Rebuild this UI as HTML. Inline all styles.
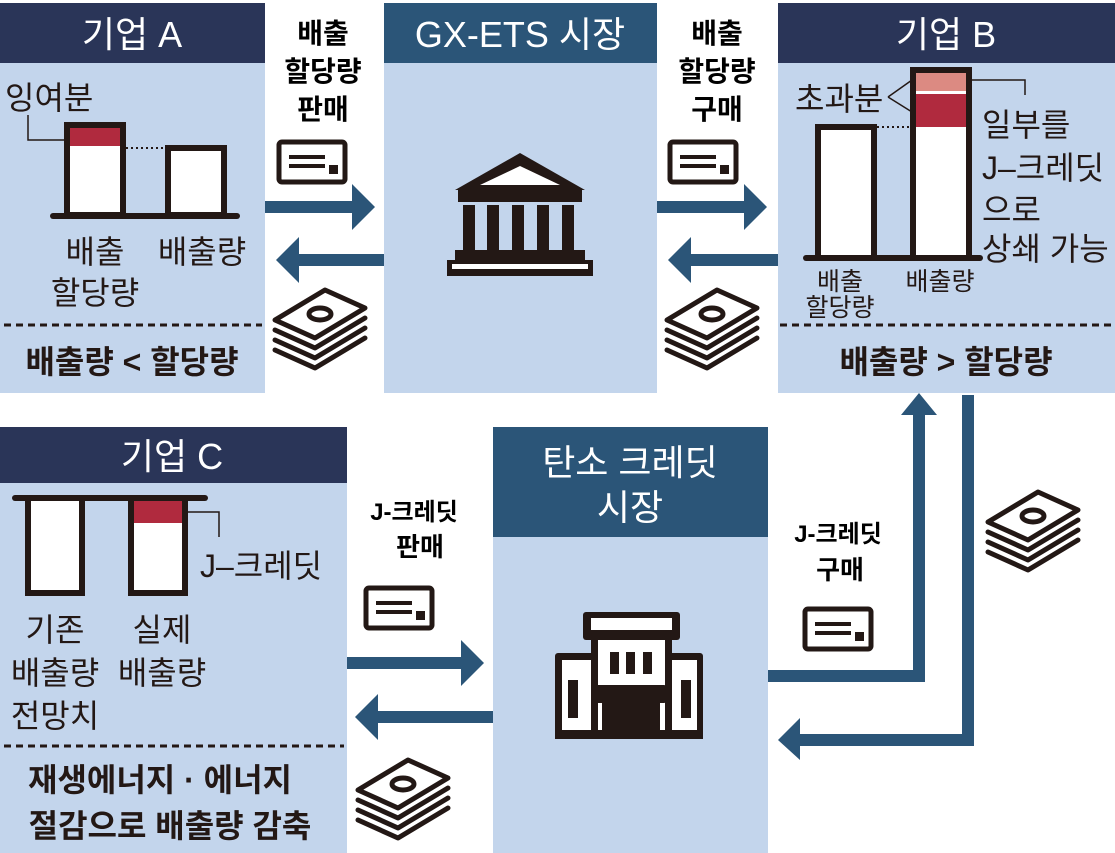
<!DOCTYPE html>
<html><head><meta charset="utf-8"><style>
html,body{margin:0;padding:0;background:#fff;}
svg{display:block;}
text{font-family:"Liberation Sans","Noto Sans CJK KR",sans-serif;}
</style></head><body>
<svg width="1115" height="853" viewBox="0 0 1115 853" xmlns="http://www.w3.org/2000/svg">
<defs>
<g id="money" fill="none" stroke="#231815" stroke-width="5" stroke-linejoin="round" stroke-linecap="round">
  <path d="M0 30 L50 0 L90 18 L40 48 Z" fill="#fff"/>
  <ellipse cx="45" cy="24" rx="11" ry="6"/>
  <path d="M0 40 L40 58 L90 28"/>
  <path d="M0 50 L40 68 L90 38"/>
  <path d="M0 60 L40 78 L90 48"/>
</g>
<g id="ticket">
  <rect x="2" y="2" width="66" height="40" rx="3" fill="#fff" stroke="#231815" stroke-width="5"/>
  <rect x="12" y="15" width="36" height="4" fill="#231815"/>
  <rect x="12" y="24" width="36" height="4" fill="#231815"/>
  <rect x="52" y="25" width="9" height="9" fill="#231815"/>
</g>
</defs>

<!-- Panel A -->
<rect x="0" y="3" width="265" height="390" fill="#c3d5ec"/>
<rect x="0" y="3" width="265" height="60" fill="#2a3558"/>
<text x="132" y="47" font-size="36" fill="#fff" text-anchor="middle">기업 A</text>
<text x="5" y="109" font-size="32" fill="#231815">잉여분</text>
<path d="M28 115 V140 H67" stroke="#231815" stroke-width="1.5" fill="none"/>
<rect x="67" y="125" width="56" height="90" fill="#fff" stroke="#231815" stroke-width="6"/>
<rect x="70" y="128" width="50" height="18" fill="#b02a3e"/>
<rect x="168" y="148" width="56" height="67" fill="#fff" stroke="#231815" stroke-width="6"/>
<path d="M126 148 H165" stroke="#231815" stroke-width="2" stroke-dasharray="2,3"/>
<rect x="50" y="213" width="190" height="6" rx="3" fill="#231815"/>
<text x="95" y="263" font-size="32" fill="#231815" text-anchor="middle">배출</text>
<text x="95" y="304" font-size="32" fill="#231815" text-anchor="middle">할당량</text>
<text x="202" y="263" font-size="32" fill="#231815" text-anchor="middle">배출량</text>
<path d="M4 325 H262" stroke="#231815" stroke-width="3" stroke-dasharray="7,5"/>
<text x="132" y="373" font-size="32" font-weight="bold" fill="#231815" text-anchor="middle">배출량 &lt; 할당량</text>

<!-- GX-ETS -->
<rect x="384" y="3" width="273" height="390" fill="#c3d5ec"/>
<rect x="384" y="3" width="273" height="60" fill="#2b5578"/>
<text x="520" y="47" font-size="36" fill="#fff" text-anchor="middle">GX-ETS 시장</text>
<g fill="#231815">
  <path d="M520 153 L585 190 L455 190 Z"/>
  <path d="M520 166 L560 185 L480 185 Z" fill="#fff"/>
  <rect x="458" y="190" width="124" height="12"/>
  <rect x="463" y="205" width="12" height="45"/><rect x="487" y="205" width="12" height="45"/>
  <rect x="512" y="205" width="12" height="45"/><rect x="537" y="205" width="12" height="45"/>
  <rect x="562" y="205" width="12" height="45"/>
  <rect x="455" y="250" width="130" height="10"/>
  <rect x="447" y="260" width="146" height="16"/>
  <rect x="452" y="264" width="136" height="5" fill="#fff"/>
</g>

<!-- Panel B -->
<rect x="778" y="3" width="337" height="390" fill="#c3d5ec"/>
<rect x="778" y="3" width="337" height="60" fill="#2a3558"/>
<text x="946" y="47" font-size="36" fill="#fff" text-anchor="middle">기업 B</text>
<text x="795" y="110" font-size="32" fill="#231815">초과분</text>
<path d="M888 97 L912 80 M888 97 L912 112" stroke="#231815" stroke-width="1.5" fill="none"/>
<rect x="818" y="127" width="56" height="131" fill="#fff" stroke="#231815" stroke-width="6"/>
<rect x="913" y="70" width="56" height="188" fill="#fff" stroke="#231815" stroke-width="6"/>
<rect x="916" y="73" width="50" height="18" fill="#dc8a82"/>
<rect x="916" y="94" width="50" height="33" fill="#b02a3e"/>
<path d="M877 127 H910" stroke="#231815" stroke-width="2" stroke-dasharray="2,3"/>
<path d="M972 80 H1025 V95" stroke="#231815" stroke-width="1.5" fill="none"/>
<rect x="803" y="255" width="180" height="6" rx="3" fill="#231815"/>
<g font-size="32" fill="#231815">
<text x="982" y="136">일부를</text>
<text x="982" y="179">J–크레딧</text>
<text x="982" y="221">으로</text>
<text x="982" y="260">상쇄 가능</text>
</g>
<text x="840" y="290" font-size="25" fill="#231815" text-anchor="middle">배출</text>
<text x="840" y="316" font-size="25" fill="#231815" text-anchor="middle">할당량</text>
<text x="940" y="290" font-size="25" fill="#231815" text-anchor="middle">배출량</text>
<path d="M780 325 H1112" stroke="#231815" stroke-width="3" stroke-dasharray="7,5"/>
<text x="946" y="373" font-size="32" font-weight="bold" fill="#231815" text-anchor="middle">배출량 &gt; 할당량</text>

<!-- arrow labels -->
<g font-size="28" font-weight="bold" fill="#000" text-anchor="middle">
<text x="323" y="43">배출</text><text x="323" y="81">할당량</text><text x="323" y="119">판매</text>
<text x="717" y="43">배출</text><text x="717" y="81">할당량</text><text x="717" y="119">구매</text>
<text x="414" y="520" font-size="24">J-크레딧</text><text x="420" y="556" font-size="26">판매</text>
<text x="838" y="542" font-size="24">J-크레딧</text><text x="840" y="579" font-size="26">구매</text>
</g>

<!-- arrows -->
<g fill="#2b5578">
<rect x="265" y="201" width="90" height="12"/><path d="M352 184 L375 207 L352 230 Z"/>
<rect x="296" y="254" width="88" height="12"/><path d="M299 237 L276 260 L299 283 Z"/>
<rect x="657" y="201" width="90" height="12"/><path d="M744 184 L767 207 L744 230 Z"/>
<rect x="688" y="254" width="90" height="12"/><path d="M691 237 L668 260 L691 283 Z"/>
<rect x="347" y="657" width="117" height="12"/><path d="M461 640 L484 663 L461 686 Z"/>
<rect x="375" y="711" width="118" height="12"/><path d="M378 694 L355 717 L378 740 Z"/>
<path d="M768 670 H913 V415 H901 L919 393 L937 415 H925 V682 H768 Z"/>
<path d="M962 395 H974 V746 H800 V760 L778 740 L800 718 V734 H962 Z"/>
</g>

<use href="#ticket" x="277" y="140"/>
<use href="#ticket" x="668" y="140"/>
<use href="#ticket" x="364" y="586"/>
<use href="#ticket" x="803" y="607"/>
<use href="#money" x="275" y="290"/>
<use href="#money" x="667" y="290"/>
<use href="#money" x="988" y="492"/>
<use href="#money" x="358" y="760"/>

<!-- Panel C -->
<rect x="0" y="427" width="347" height="426" fill="#c3d5ec"/>
<rect x="0" y="427" width="347" height="56" fill="#2a3558"/>
<text x="172" y="469" font-size="36" fill="#fff" text-anchor="middle">기업 C</text>
<rect x="12" y="495" width="196" height="6" rx="3" fill="#231815"/>
<rect x="28" y="498" width="54" height="95" fill="#fff" stroke="#231815" stroke-width="6"/>
<rect x="131" y="498" width="54" height="95" fill="#fff" stroke="#231815" stroke-width="6"/>
<rect x="134" y="501" width="48" height="22" fill="#b02a3e"/>
<path d="M188 512 H219 V537" stroke="#231815" stroke-width="1.5" fill="none"/>
<text x="200" y="577" font-size="32" fill="#231815">J–크레딧</text>
<g font-size="32" fill="#231815" text-anchor="middle">
<text x="55" y="641">기존</text><text x="55" y="684">배출량</text><text x="55" y="727">전망치</text>
<text x="162" y="641">실제</text><text x="162" y="684">배출량</text>
</g>
<path d="M4 746 H344" stroke="#231815" stroke-width="3" stroke-dasharray="7,5"/>
<text x="160" y="791" font-size="32" font-weight="bold" fill="#231815" text-anchor="middle">재생에너지 · 에너지</text>
<text x="170" y="837" font-size="32" font-weight="bold" fill="#231815" text-anchor="middle">절감으로 배출량 감축</text>

<!-- Carbon credit market -->
<rect x="493" y="427" width="275" height="426" fill="#c3d5ec"/>
<rect x="493" y="427" width="275" height="110" fill="#2b5578"/>
<text x="630" y="475" font-size="36" fill="#fff" text-anchor="middle">탄소 크레딧</text>
<text x="630" y="520" font-size="36" fill="#fff" text-anchor="middle">시장</text>
<g fill="#231815">
  <rect x="583" y="612" width="97" height="28" rx="3"/>
  <rect x="591" y="618" width="81" height="12" fill="#fff"/>
  <rect x="555" y="653" width="148" height="86" rx="3"/>
  <rect x="562" y="660" width="30" height="72" fill="#fff"/>
  <rect x="671" y="660" width="26" height="72" fill="#fff"/>
  <rect x="591" y="640" width="81" height="96"/>
  <rect x="598" y="640" width="67" height="90" fill="#fff"/>
  <rect x="568" y="680" width="10" height="38"/><rect x="681" y="680" width="10" height="38"/>
  <rect x="610" y="652" width="9" height="22"/><rect x="626" y="652" width="9" height="22"/><rect x="643" y="652" width="9" height="22"/>
  <rect x="595" y="685" width="72" height="18" rx="3"/>
  <rect x="602" y="703" width="12" height="30"/><rect x="648" y="703" width="12" height="30"/>
  <rect x="614" y="703" width="34" height="30"/>
  <rect x="555" y="730" width="148" height="9"/>
</g>
</svg>
</body></html>
